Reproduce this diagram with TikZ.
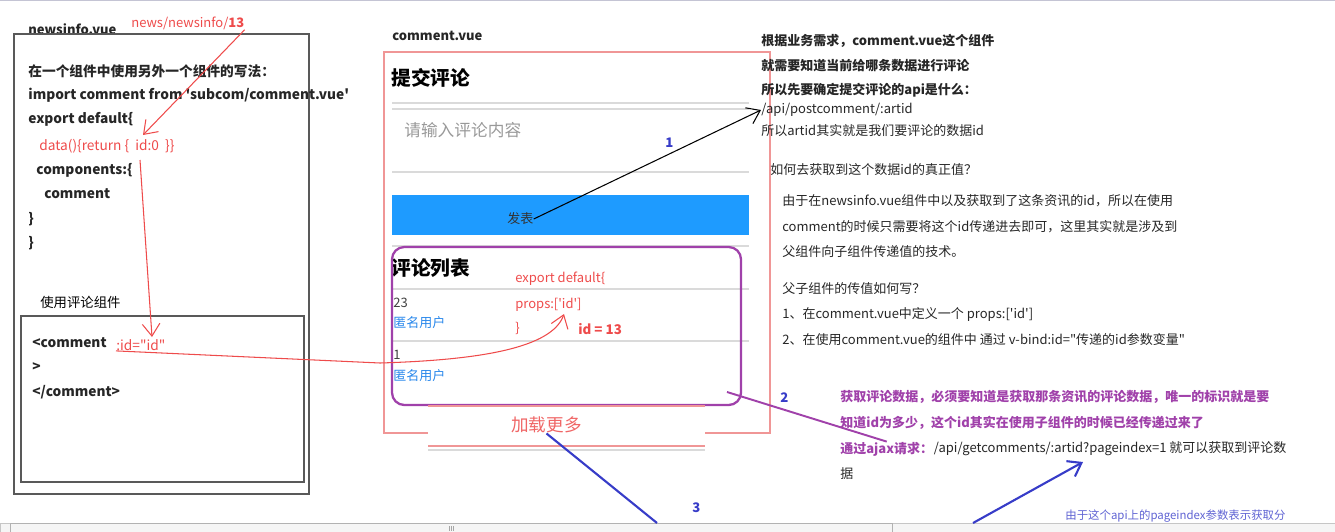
\documentclass[tikz,border=0pt]{standalone}
\usepackage{fontspec}
\setmainfont{Noto Sans CJK SC}[Ligatures=TeXOff]
\usetikzlibrary{arrows.meta}
\definecolor{notered}{RGB}{238,75,75}
\definecolor{pinkline}{RGB}{240,150,150}
\definecolor{btnblue}{RGB}{30,155,255}
\definecolor{linkblue}{RGB}{40,135,235}
\definecolor{markpurple}{RGB}{160,65,170}
\definecolor{markblue}{RGB}{55,60,200}
\definecolor{sepgray}{RGB}{218,218,218}
\definecolor{bargray}{RGB}{245,245,245}

\begin{document}
\begin{tikzpicture}[x=0.02cm, y=-0.02cm, font=\fontsize{7.4}{9}\selectfont,
  >={Straight Barb[length=7pt, width=10pt]},
  txt/.style={anchor=west, inner sep=0pt, text=black!85},
  boldtxt/.style={txt, font=\fontsize{7.4}{9}\selectfont\bfseries},
  codetxt/.style={txt, font=\fontsize{7.8}{9}\selectfont\bfseries},
  redtxt/.style={txt, text=notered},
  purptxt/.style={txt, text=markpurple, font=\fontsize{7.4}{9}\selectfont\bfseries},
  bigtitle/.style={txt, text=black, font=\fontsize{11.2}{13}\selectfont\bfseries},
  numlabel/.style={txt, text=markblue, font=\fontsize{7.5}{9}\selectfont\bfseries},
  sep/.style={sepgray, line width=0.6pt},
  redpen/.style={notered, line width=0.6pt}]
\useasboundingbox (0,0) rectangle (1335,531);
% screen edges
\draw[blue!15!gray!40, line width=1pt] (0,0.5) -- (1335,0.5);
\draw[gray!45, fill=bargray] (0,523) rectangle (1335,533);
\draw[gray!60, fill=white!92!gray] (10,523.5) rectangle (892,533);
\foreach \x in {449,451,453}
  \draw[gray!70] (\x,526) -- (\x,531);

% newsinfo.vue
\node[boldtxt] (newsname) at (28,29) {newsinfo.vue};
\node[redtxt] (route) at (131,23) {news/newsinfo/\textbf{13}};
\draw[black!65, line width=0.8pt] (14,34) rectangle (309,494);
\node[codetxt] (howto) at (28,71) {在一个组件中使用另外一个组件的写法：};
\node[codetxt] (import) at (28,95) {import comment from 'subcom/comment.vue'};
\node[codetxt] (export) at (28,119) {export default\{};
\node[redtxt, font=\fontsize{7.8}{9}\selectfont] (dataline) at (39,146) {data()\{return \{\ \ id:0\ \ \}\}};
\node[codetxt] (comps) at (36,170) {components:\{};
\node[codetxt] (compname) at (44,194) {comment};
\node[codetxt] (closea) at (28,219) {\}};
\node[codetxt] (closeb) at (28,243) {\}};
\node[txt, text=black, font=\fontsize{7.6}{9}\selectfont] (usetitle) at (40,302) {使用评论组件};
\draw[black!65, line width=0.8pt] (21,316) rectangle (304,482);
\node[codetxt] (tagopen) at (32,343) {<comment};
\node[redtxt, font=\fontsize{7.8}{9}\selectfont] (bindattr) at (116,345) {:id="id"};
\node[codetxt] (tagmid) at (32,367) {>};
\node[codetxt] (tagclose) at (32,392) {</comment>};

% comment.vue
\node[boldtxt] (commentname) at (392,36) {comment.vue};
\draw[pinkline, line width=0.7pt] (428,433) -- (384,433) -- (384,52) -- (770,52) -- (770,433) -- (705,433);
\node[bigtitle] (posttitle) at (391,78) {提交评论};
\draw[sep] (392,103) -- (749,103);
\draw[sep] (392,109) -- (749,109);
\node[txt, text=black!40, font=\fontsize{9.5}{11}\selectfont] (placeholder) at (404,130) {请输入评论内容};
\draw[sep] (392,172) -- (749,172);
\fill[btnblue] (392,195) rectangle (749,235);
\node[txt, text=black!80] (fabiao) at (507,219) {发表};
\draw[sep] (392,246) -- (749,246);
\node[bigtitle] (listtitle) at (391,268) {评论列表};
\draw[sep] (392,289) -- (749,289);
\node[txt, text=black!75] (countone) at (393,303) {23};
\node[txt, text=linkblue] (userone) at (393,323) {匿名用户};
\draw[sep] (392,341) -- (749,341);
\node[txt, text=black!75] (counttwo) at (393,355) {1};
\node[txt, text=linkblue] (usertwo) at (393,376) {匿名用户};
\node[redtxt] (propexport) at (515,279) {export default\{};
\node[redtxt] (props) at (515,305) {props:['id']};
\node[redtxt] (propclose) at (515,328) {\}};
\node[redtxt, font=\fontsize{7.6}{9}\selectfont\bfseries] (idvalue) at (578,329) {id = 13};
\draw[markpurple, line width=1.3pt, rounded corners=7pt] (392,247) rectangle (741,405);
\fill[white] (428,406) rectangle (705,446);
\draw[pinkline, line width=0.7pt] (428,406) -- (705,406);
\draw[pinkline, line width=0.7pt] (428,446) -- (705,446);
\draw[sepgray, line width=1pt] (428,450) -- (705,450);
\node[txt, text=notered!85, font=\fontsize{10}{12}\selectfont] (loadmore) at (511,425) {加载更多};

% notes on the right
\node[boldtxt] (needa) at (761,41) {根据业务需求，comment.vue这个组件};
\node[boldtxt] (needb) at (761,66) {就需要知道当前给哪条数据进行评论};
\node[boldtxt] (needc) at (761,90) {所以先要确定提交评论的api是什么：};
\node[txt] (apipost) at (761,110) {/api/postcomment/:artid};
\node[txt] (artid) at (761,131) {所以artid其实就是我们要评论的数据id};
\node[txt] (howget) at (770,170) {如何去获取到这个数据id的真正值？};
\node[txt] (whya) at (782,201) {由于在newsinfo.vue组件中以及获取到了这条资讯的id，所以在使用};
\node[txt] (whyb) at (782,227) {comment的时候只需要将这个id传递进去即可，这里其实就是涉及到};
\node[txt] (whyc) at (782,252) {父组件向子组件传递值的技术。};
\node[txt] (howpass) at (782,289) {父子组件的传值如何写？};
\node[txt] (stepone) at (782,314) {1、在comment.vue中定义一个 props:['id']};
\node[txt] (steptwo) at (782,340) {2、在使用comment.vue的组件中 通过 v-bind:id="传递的id参数变量"};
\node[purptxt] (fetcha) at (840,397) {获取评论数据，必须要知道是获取那条资讯的评论数据，唯一的标识就是要};
\node[purptxt] (fetchb) at (840,423) {知道id为多少，这个id其实在使用子组件的时候已经传递过来了};
\node[purptxt] (ajaxreq) at (840,449) {通过ajax请求：};
\node[txt, anchor=west] (getapi) at (ajaxreq.east) {/api/getcomments/:artid?pageindex=1 就可以获取到评论数};
\node[txt] (getapiend) at (840,474) {据};
\node[txt, text=markblue!80, font=\fontsize{6.5}{8}\selectfont] (pagenote) at (1065,516) {由于这个api上的pageindex参数表示获取分};

% marks
\coordinate (idtip) at (143,135);
\coordinate (idfoot) at (140,160);
\coordinate (bindtip) at (152,337);
\coordinate (propstip) at (564,314);
\coordinate (listcorner) at (727,392);
\coordinate (screenbotA) at (657,523);
\coordinate (screenbotB) at (973,523);
\coordinate (pageindextip) at (1083,462);
\draw[redpen, ->] (route.south east) -- (idtip);
\draw[redpen, ->] (idfoot) -- (bindtip);
\draw[redpen, ->] (bindattr.south west) -- (380,363) .. controls (480,360) and (552,348) .. (propstip);
\draw[black, line width=0.6pt, ->] (fabiao.east) -- (apipost.west);
\node[numlabel] (markone) at (665,143) {1};
\draw[markpurple, line width=1.1pt] (listcorner) -- (ajaxreq.north);
\node[numlabel] (marktwo) at (780,398) {2};
\draw[markblue, line width=1.2pt] (loadmore.south) -- (screenbotA);
\node[numlabel] (markthree) at (692,508) {3};
\draw[markblue, line width=1.2pt, ->] (screenbotB) -- (pageindextip);
\end{tikzpicture}
\end{document}
